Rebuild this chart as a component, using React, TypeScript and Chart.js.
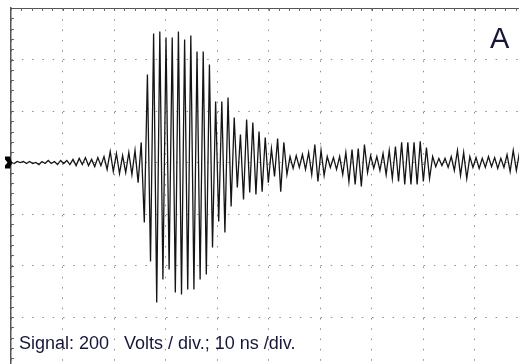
import { useEffect, useRef } from "react";
import { Chart, registerables } from "chart.js";

Chart.register(...registerables);

// Oscilloscope trace: 200 V/div vertical, 10 ns/div horizontal.
// One sample per half-cycle of the ~0.83 GHz ringing (peak-to-peak extremes).
const SAMPLE_NS = 0.602;
const TIME_MAX_NS = 98.64;
const VOLT_MAX = 600;
const VOLT_MIN = -782.5;
const TIME_GRID_NS = [0, 10, 20, 30, 40, 50, 60, 70, 80, 90];
const VOLT_GRID = [-600, -400, -200, 0, 200, 400, 600];
const CAPTION = "Signal: 200   Volts / div.; 10 ns /div.";
const PANEL_LABEL = "A";

// Volts
const baselineNoise = [
  0, -4, 4, 0, 4, -4, 4, -4, 0, -8, 4, -4, 8, -4, 4, -8, 8, -4, 8, -8, 12, -12, 16, -8, 19, -12, 12, -16, 19,
  -12,
];
const precursor = [23, -27, 43, -35, 35, -43, 27, -39, 39, -47, 47, -78];
const mainBurst = [
  78, -233, 342, -384, 501, -544, 509, -454, 485, -415, 485, -505, 509, -513, 478, -493, 493, -493, 431, -454,
  431, -435, 381, -330, 237, -229, 237, -272, 252, -171, 175, -97, 109, -144, 167, -116, 155, -124, 120,
];
const ringdown = [
  -113, 97, -78, 54, -54, 93, -113, 78, -47, 23, -23, 27, -19, 31, -27, 39, -47, 70, -74, 47, -50, 23, -19, 19,
  -27, 23, -47, 39, -74, 50, -85, 54, -93, 70, -39, 27, -23, 23, -31, 35, -47, 47, -62, 62, -74, 78, -85, 78,
  -85, 78, -85, 82, -74, 58, -62, 23, -16, 16, -12, 16, -19, 23, -31, 47, -50, 39, -62, 23, -19, 19, -23, 16,
  -19, 23, -16, 19, -23, 16, -19, 31, -35, 47, -31, 39,
];

const graticulePlugin = {
  id: "graticule",
  afterDraw(chart: any) {
    const { ctx, chartArea, scales } = chart;
    const xs = scales.x;
    const ys = scales.y;
    ctx.save();
    ctx.strokeStyle = "#666";
    ctx.lineWidth = 1;
    ctx.beginPath();
    // minor ticks on the left edge (1/5 division)
    for (let v = VOLT_MAX - 40; v > VOLT_MIN; v -= 40) {
      const y = Math.round(ys.getPixelForValue(v)) + 0.5;
      ctx.moveTo(chartArea.left, y);
      ctx.lineTo(chartArea.left + 3, y);
    }
    // minor ticks along the top edge
    for (let t = 2; t < TIME_MAX_NS; t += 2) {
      const x = Math.round(xs.getPixelForValue(t)) + 0.5;
      ctx.moveTo(x, chartArea.top);
      ctx.lineTo(x, chartArea.top + 3);
    }
    ctx.stroke();
    // ground-level marker
    const y0 = ys.getPixelForValue(0);
    const l = chartArea.left;
    ctx.fillStyle = "#000";
    ctx.beginPath();
    ctx.moveTo(l - 6, y0 - 6);
    ctx.lineTo(l - 1, y0 - 6);
    ctx.lineTo(l + 1, y0);
    ctx.lineTo(l - 1, y0 + 6);
    ctx.lineTo(l - 6, y0 + 6);
    ctx.closePath();
    ctx.fill();
    ctx.fillStyle = "#fff";
    ctx.beginPath();
    ctx.moveTo(l - 6, y0 - 3);
    ctx.lineTo(l - 3.5, y0);
    ctx.lineTo(l - 6, y0 + 3);
    ctx.closePath();
    ctx.fill();
    ctx.restore();
  },
};

export default function App() {
  const canvasRef = useRef<HTMLCanvasElement | null>(null);

  useEffect(() => {
    const samples = [...baselineNoise, ...precursor, ...mainBurst, ...ringdown];
    const points = samples.map((v, i) => ({ x: i * SAMPLE_NS, y: v }));
    const chart = new Chart(canvasRef.current as HTMLCanvasElement, {
      type: "line",
      data: {
        datasets: [
          {
            data: points,
            borderColor: "#151515",
            borderWidth: 1.3,
            pointRadius: 0,
            tension: 0,
            fill: false,
          },
        ],
      },
      options: {
        responsive: false,
        animation: false,
        layout: { padding: { left: 11, top: 8, right: 0, bottom: 0 } },
        plugins: { legend: { display: false }, tooltip: { enabled: false } },
        scales: {
          x: {
            type: "linear",
            position: "top",
            min: 0,
            max: TIME_MAX_NS,
            afterBuildTicks: (s: any) => {
              s.ticks = TIME_GRID_NS.map((v) => ({ value: v }));
            },
            ticks: { display: false },
            grid: { color: "#8c8c8c", lineWidth: 1, drawTicks: false },
            border: { display: true, color: "#555", width: 1, dash: [1.5, 8.8] },
          },
          y: {
            type: "linear",
            position: "left",
            min: VOLT_MIN,
            max: VOLT_MAX,
            afterBuildTicks: (s: any) => {
              s.ticks = VOLT_GRID.map((v) => ({ value: v }));
            },
            ticks: { display: false },
            grid: { color: "#8c8c8c", lineWidth: 1, drawTicks: false },
            border: { display: true, color: "#555", width: 1.5, dash: [1.5, 8.8] },
          },
        },
      },
      plugins: [graticulePlugin],
    });
    return () => chart.destroy();
  }, []);

  return (
    <div
      style={{
        position: "absolute",
        left: 0,
        top: 0,
        width: 519,
        height: 364,
        background: "#fff",
        overflow: "hidden",
      }}
    >
      <canvas ref={canvasRef} width={519} height={364} style={{ display: "block" }} />
      <div
        style={{
          position: "absolute",
          left: 490,
          top: 23.5,
          font: "29px 'Liberation Sans', Arial, sans-serif",
          lineHeight: "29px",
          color: "#16163a",
        }}
      >
        {PANEL_LABEL}
      </div>
      <div
        style={{
          position: "absolute",
          left: 19,
          top: 334,
          font: "18px 'Liberation Sans', Arial, sans-serif",
          lineHeight: "18px",
          whiteSpace: "pre",
          color: "#16163a",
        }}
      >
        {CAPTION}
      </div>
    </div>
  );
}
